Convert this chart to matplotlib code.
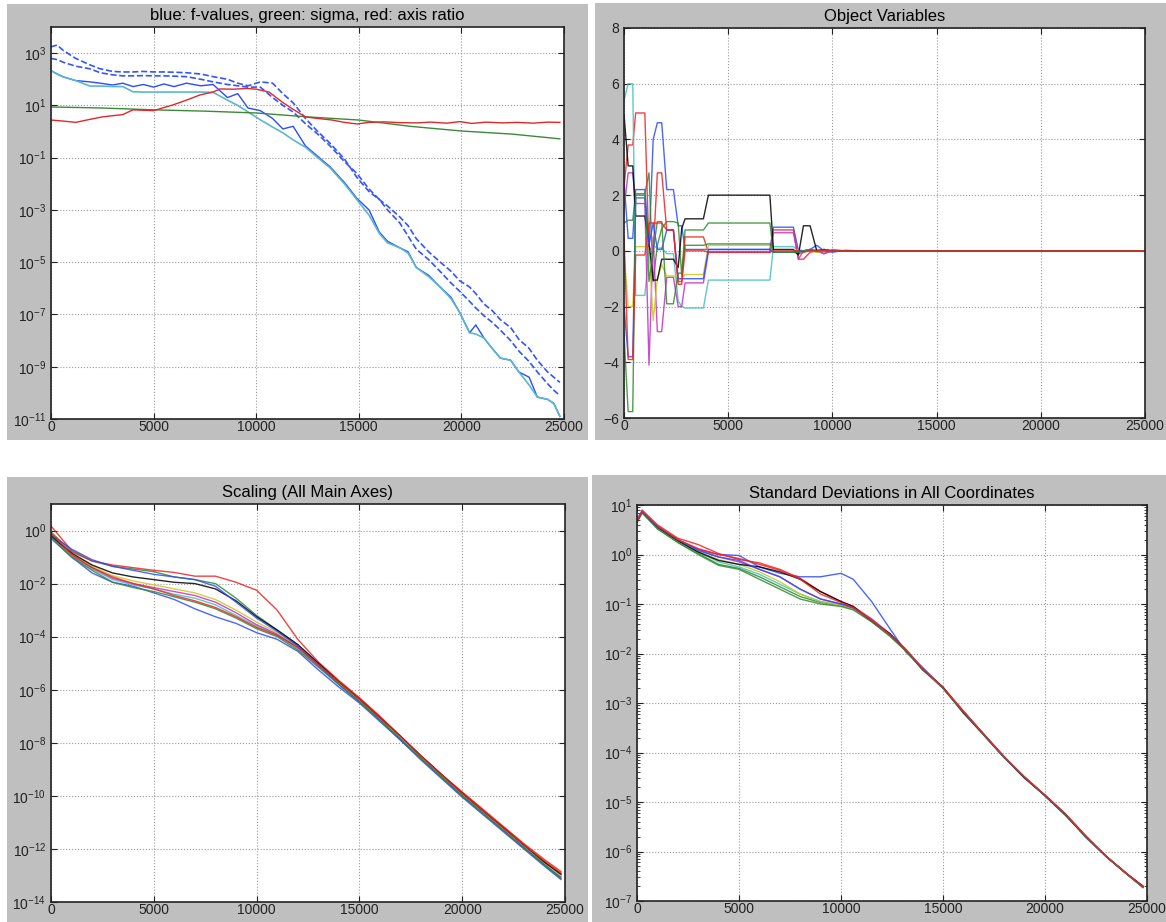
import matplotlib
matplotlib.use('Agg')
import numpy as np
import matplotlib.pyplot as plt
from matplotlib.patches import Rectangle
from matplotlib.ticker import FixedLocator, NullLocator

plt.rcParams['font.family'] = ['Liberation Sans', 'DejaVu Sans']
plt.rcParams['mathtext.default'] = 'regular'

# ---------------- data (log10 values for the log panels) ----------------
# top left: f-values, sigma, axis ratio
f_x = [0, 300, 600, 1200, 1900, 2400, 3000, 3500, 4000, 4500, 5000, 5500, 6000, 6600,
       7300, 7900, 8600, 9100, 9600, 10200, 10800, 11300, 11800, 12400, 13000, 13600,
       14300, 14900, 15500, 16000, 16400, 17000, 17400, 17800, 18400, 18900, 19500,
       19900, 20400, 20700, 21100, 21500, 21900, 22400, 22800, 23300, 23700, 24200,
       24500, 24800]
f_best = [2.33, 2.2, 2.09, 1.95, 1.74, 1.74, 1.72, 1.72, 1.52, 1.51, 1.51, 1.51, 1.51, 1.51,
          1.51, 1.5, 1.2, 1.0, 0.75, 0.45, 0.17, -0.05, -0.32, -0.6, -1.0, -1.39,
          -2.0, -2.6, -3.2, -3.9, -4.26, -4.45, -4.65, -5.2, -5.55, -5.9, -6.4,
          -6.9, -7.7, -7.75, -7.9, -8.3, -8.67, -8.75, -9.2, -9.7, -10.16, -10.25,
          -10.4, -10.9]
f_cur = [2.33, 2.2, 2.09, 1.95, 1.9, 1.85, 1.78, 1.85, 1.72, 1.8, 1.7, 1.82, 1.72, 1.85,
         1.75, 1.8, 1.3, 1.45, 0.9, 0.8, 0.5, 0.1, 0.2, -0.55, -0.95, -1.35,
         -1.95, -2.55, -3.0, -3.85, -4.2, -4.45, -4.6, -5.2, -5.5, -5.9, -6.35,
         -6.9, -7.7, -7.4, -7.9, -8.3, -8.67, -8.75, -9.2, -9.4, -10.16, -10.25,
         -10.4, -10.9]
f_upper = [3.24, 3.31, 3.1, 2.8, 2.55, 2.4, 2.3, 2.28, 2.28, 2.3, 2.28, 2.28, 2.27, 2.25,
           2.2, 2.1, 2.0, 1.85, 1.75, 1.9, 1.85, 1.45, 1.1, 0.5, 0.0, -0.45,
           -1.05, -1.75, -2.3, -2.6, -2.85, -3.27, -3.6, -4.1, -4.6, -4.95, -5.35,
           -5.7, -5.95, -6.2, -6.6, -6.85, -7.2, -7.5, -7.95, -8.3, -8.75, -9.2,
           -9.4, -9.6]
f_lower = [2.8, 2.75, 2.65, 2.5, 2.4, 2.25, 2.17, 2.13, 2.13, 2.14, 2.13, 2.13, 2.12, 2.1,
           2.0, 1.9, 1.8, 1.75, 1.7, 1.7, 1.3, 1.0, 0.75, 0.3, -0.1, -0.55,
           -1.15, -1.6, -2.2, -2.6, -3.0, -3.5, -4.0, -4.5, -4.9, -5.3, -5.8,
           -6.1, -6.5, -6.75, -7.05, -7.3, -7.6, -8.0, -8.4, -8.8, -9.2, -9.65,
           -9.9, -10.1]
sigma_x = [0, 2500, 5000, 7500, 10000, 12500, 15000, 17500, 20000, 22500, 24800]
sigma = [0.94, 0.9, 0.83, 0.78, 0.71, 0.56, 0.44, 0.2, 0.02, -0.1, -0.28]
ratio_x = [0, 600, 1200, 1800, 2500, 3500, 4000, 5000, 5950, 6600, 7260, 7900, 8240, 8900,
           9550, 10000, 10630, 11260, 11800, 12400, 13000, 13700, 14300, 14910, 15500,
           16200, 17000, 17820, 18500, 19300, 19930, 20500, 21200, 22000, 22700, 23500,
           24200, 24800]
ratio = [0.44, 0.4, 0.35, 0.45, 0.56, 0.65, 0.83, 0.8, 1.02, 1.2, 1.4, 1.51, 1.63, 1.62,
         1.65, 1.62, 1.51, 1.13, 0.85, 0.56, 0.5, 0.44, 0.35, 0.29, 0.35,
         0.37, 0.34, 0.33, 0.36, 0.32, 0.38, 0.31, 0.36, 0.33, 0.35, 0.32,
         0.36, 0.35]

# top right: object variables
obj_x = [0, 200, 420, 560, 1000, 1200, 1400, 1600, 1810, 2050, 2370, 2600, 2770, 2930,
         3810, 4050, 7000, 7170, 8130, 8370, 8610, 8930, 9250, 9600, 10000, 10600, 11500, 25000]
obj_vars = [
    [2.5, 0.45, 0.45, 2.2, 2.2, 0.1, 4.0, 4.6, 4.6, 2.2, 2.2, 0.9, 0.9, 0.05, 0.05, 0.05, 0.05, 0.85, 0.85, 0.0, 0.0, 0.05, 0.2, 0.0, -0.05, 0.02, 0.0, 0.0],
    [1.0, 1.1, 1.1, 2.05, 2.05, 2.8, -1.1, 0.2, 0.8, 1.05, 1.05, 1.0, -0.9, 0.75, 0.75, 1.0, 1.0, -0.05, -0.05, -0.1, -0.05, 0.05, -0.05, 0.02, 0.0, 0.0, 0.0, 0.0],
    [2.3, 3.8, 3.8, 4.95, 4.95, -0.1, -0.1, 2.8, 2.8, 0.75, 0.75, -1.1, -1.1, 0.5, 0.5, -0.05, -0.05, 0.75, 0.75, -0.3, -0.3, -0.05, 0.0, -0.1, 0.0, 0.0, 0.0, 0.0],
    [5.4, 6.0, 6.0, -1.6, -1.6, 0.0, 0.2, 0.1, 0.1, -0.1, -0.1, -1.8, -2.0, -2.05, -2.05, -1.05, -1.05, 0.15, 0.15, 0.0, 0.0, 0.0, 0.05, 0.0, 0.0, 0.0, 0.0, 0.0],
    [1.5, 2.8, 2.8, 1.7, 1.7, -4.1, 0.5, -2.9, -2.9, -0.95, -0.95, -2.0, -2.0, -1.15, -1.15, -0.05, -0.05, 0.65, 0.65, -0.3, 0.0, 0.05, 0.0, -0.1, 0.05, 0.0, 0.0, 0.0],
    [0.0, -2.0, -2.0, 0.15, 0.15, 0.1, -2.5, -1.0, -0.5, -0.9, -0.9, -1.0, -1.0, -0.85, -0.85, 0.2, 0.2, -0.05, -0.05, 0.05, 0.0, 0.0, -0.05, 0.0, 0.0, 0.0, 0.0, 0.0],
    [4.9, 3.05, 3.05, 1.25, 1.25, 0.3, -1.05, -1.05, -0.3, -0.3, -0.3, -0.6, 0.8, 1.15, 1.15, 2.0, 2.0, 0.05, 0.05, -0.15, 0.9, 0.9, 0.0, 0.05, 0.0, 0.0, 0.0, 0.0],
    [-2.0, -3.8, -3.8, 1.9, 1.9, 0.2, 1.0, 0.05, 0.05, 0.75, 0.75, -1.0, -1.0, -1.0, -1.0, 0.05, 0.05, -0.05, -0.05, 0.0, 0.0, 0.0, 0.0, 0.05, 0.0, 0.0, 0.0, 0.0],
    [-3.0, -5.77, -5.77, 2.0, 2.0, -1.1, 0.0, 1.05, 1.05, -1.9, -1.9, -0.8, -0.8, 0.2, 0.2, 0.25, 0.25, -0.05, -0.05, -0.05, 0.0, 0.05, 0.0, 0.0, 0.0, 0.0, 0.0, 0.0],
    [0.5, -3.9, -3.9, -0.15, -0.15, 1.0, 1.0, 1.0, 1.0, 0.75, 0.75, -1.2, -1.2, 0.0, 0.0, -0.05, -0.05, 0.0, 0.0, 0.0, -0.05, 0.0, 0.0, 0.0, 0.0, 0.0, 0.0, 0.0],
]

# bottom left: scaling (log10)
scal_x = [0, 1000, 2000, 3000, 4000, 5000, 6000, 7000, 8000, 9000, 10000, 11000, 12000,
          13000, 14000, 15000, 16000, 17000, 18000, 19000, 20000, 21000, 22000, 23000,
          24000, 24800]
scal_exp = [
    [-0.3, -1.0, -1.6, -1.95, -2.1, -2.35, -2.6, -2.95, -3.25, -3.5, -3.85, -4.1, -4.55, -5.25, -5.9, -6.5, -7.2, -7.9, -8.65, -9.35, -10.05, -10.7, -11.35, -12.0, -12.65, -13.15],
    [-0.05, -0.8, -1.15, -1.35, -1.45, -1.55, -1.75, -1.85, -2.0, -2.55, -3.2, -3.75, -4.3, -5.0, -5.7, -6.35, -7.05, -7.8, -8.5, -9.2, -9.9, -10.6, -11.2, -11.9, -12.5, -12.95],
    [0.17, -0.75, -1.15, -1.3, -1.4, -1.5, -1.58, -1.72, -1.72, -1.95, -2.25, -3.0, -4.1, -4.95, -5.65, -6.3, -7.0, -7.75, -8.5, -9.2, -9.85, -10.5, -11.15, -11.8, -12.4, -12.85],
    [-0.2, -1.0, -1.45, -1.85, -2.05, -2.2, -2.4, -2.55, -2.8, -3.2, -3.6, -3.95, -4.45, -5.1, -5.75, -6.4, -7.1, -7.8, -8.55, -9.25, -9.95, -10.6, -11.25, -11.9, -12.55, -13.0],
    [-0.15, -0.95, -1.4, -1.8, -2.0, -2.15, -2.3, -2.45, -2.7, -3.1, -3.55, -3.9, -4.4, -5.1, -5.8, -6.45, -7.1, -7.85, -8.6, -9.3, -10.0, -10.6, -11.3, -11.95, -12.6, -13.05],
    [-0.1, -0.9, -1.35, -1.7, -1.9, -2.05, -2.2, -2.35, -2.6, -3.0, -3.45, -3.85, -4.35, -5.05, -5.75, -6.4, -7.1, -7.8, -8.55, -9.25, -9.95, -10.6, -11.25, -11.9, -12.55, -13.0],
    [-0.2, -0.85, -1.3, -1.6, -1.75, -1.85, -1.95, -2.0, -2.2, -2.65, -3.25, -3.75, -4.3, -5.0, -5.7, -6.35, -7.05, -7.75, -8.5, -9.2, -9.9, -10.55, -11.2, -11.85, -12.5, -12.95],
    [-0.15, -0.7, -1.1, -1.35, -1.5, -1.65, -1.75, -1.85, -2.1, -2.7, -3.3, -3.8, -4.35, -5.05, -5.8, -6.45, -7.15, -7.9, -8.6, -9.3, -10.0, -10.65, -11.3, -11.95, -12.6, -13.1],
    [-0.25, -1.0, -1.5, -1.95, -2.15, -2.3, -2.5, -2.7, -2.95, -3.3, -3.7, -4.0, -4.5, -5.15, -5.8, -6.45, -7.15, -7.85, -8.6, -9.3, -10.0, -10.65, -11.3, -11.95, -12.6, -13.1],
    [-0.1, -0.9, -1.4, -1.75, -2.0, -2.2, -2.45, -2.65, -2.9, -3.25, -3.65, -3.95, -4.4, -5.05, -5.7, -6.35, -7.05, -7.75, -8.5, -9.2, -9.9, -10.55, -11.2, -11.85, -12.45, -12.9],
]

# bottom right: standard deviations (log10)
sd_x = [0, 250, 1000, 2000, 3000, 4000, 5000, 6000, 7000, 8000, 9000, 10000, 10600, 11500,
        12400, 13200, 14000, 15000, 16000, 17000, 18000, 19000, 20000, 21000, 22000, 23000,
        24000, 24800]
sd_exp = [
    [0.7, 0.85, 0.55, 0.3, 0.1, 0.0, -0.02, -0.25, -0.38, -0.45, -0.45, -0.38, -0.5, -0.95, -1.5, -1.98, -2.28, -2.7, -3.17, -3.65, -4.1, -4.5, -4.88, -5.27, -5.7, -6.1, -6.45, -6.72],
    [0.68, 0.85, 0.52, 0.25, 0.02, -0.2, -0.28, -0.45, -0.65, -0.85, -0.97, -1.03, -1.1, -1.35, -1.65, -1.95, -2.32, -2.7, -3.2, -3.65, -4.1, -4.5, -4.87, -5.25, -5.72, -6.1, -6.45, -6.73],
    [0.65, 0.9, 0.6, 0.33, 0.2, 0.02, -0.1, -0.17, -0.3, -0.48, -0.75, -0.95, -1.05, -1.3, -1.6, -1.92, -2.3, -2.68, -3.16, -3.63, -4.08, -4.5, -4.86, -5.24, -5.68, -6.1, -6.44, -6.7],
    [0.7, 0.87, 0.55, 0.27, 0.05, -0.15, -0.25, -0.4, -0.6, -0.8, -0.95, -1.02, -1.1, -1.33, -1.63, -1.95, -2.3, -2.7, -3.18, -3.64, -4.1, -4.5, -4.87, -5.25, -5.7, -6.1, -6.45, -6.72],
    [0.72, 0.88, 0.56, 0.3, 0.1, -0.05, -0.15, -0.3, -0.45, -0.7, -0.9, -1.0, -1.08, -1.32, -1.62, -1.94, -2.3, -2.7, -3.17, -3.63, -4.1, -4.5, -4.87, -5.25, -5.7, -6.1, -6.45, -6.72],
    [0.68, 0.85, 0.54, 0.28, 0.06, -0.1, -0.2, -0.35, -0.55, -0.8, -0.95, -1.03, -1.1, -1.34, -1.63, -1.95, -2.31, -2.7, -3.18, -3.64, -4.1, -4.5, -4.87, -5.25, -5.7, -6.1, -6.45, -6.72],
    [0.65, 0.85, 0.55, 0.28, 0.05, -0.12, -0.2, -0.25, -0.35, -0.5, -0.75, -0.95, -1.05, -1.35, -1.6, -1.95, -2.33, -2.68, -3.2, -3.64, -4.1, -4.52, -4.87, -5.26, -5.7, -6.1, -6.45, -6.7],
    [0.7, 0.86, 0.56, 0.3, 0.08, -0.05, -0.12, -0.3, -0.45, -0.7, -0.9, -1.0, -1.08, -1.32, -1.62, -1.95, -2.3, -2.7, -3.18, -3.64, -4.1, -4.5, -4.87, -5.25, -5.7, -6.1, -6.45, -6.72],
    [0.68, 0.84, 0.52, 0.24, 0.0, -0.22, -0.3, -0.5, -0.7, -0.9, -1.0, -1.05, -1.12, -1.36, -1.65, -1.96, -2.32, -2.7, -3.18, -3.64, -4.1, -4.5, -4.87, -5.25, -5.7, -6.1, -6.45, -6.72],
    [0.66, 0.88, 0.58, 0.3, 0.12, 0.0, -0.08, -0.2, -0.32, -0.5, -0.8, -0.97, -1.07, -1.33, -1.62, -1.94, -2.3, -2.69, -3.17, -3.63, -4.09, -4.5, -4.86, -5.24, -5.69, -6.1, -6.45, -6.71],
]

# classic colour cycle b, g, r, c, m, y, k
line_colors = ['#2b4bff', '#2e8b2e', '#ee2222', '#40c0c0', '#c030c0', '#c8c820', '#000000',
               '#2b4bff', '#2e8b2e', '#ee2222']

# ---------------- figure ----------------
W, H = 1166, 922
fig = plt.figure(figsize=(W / 100, H / 100), dpi=100)
fig.patch.set_facecolor('white')


def px_rect(l, t, r, b):
    return [l / W, 1 - b / H, (r - l) / W, (b - t) / H]


# grey panel backgrounds (four separate plot windows)
for l, t, r, b in [(7, 4, 588, 440), (595, 3, 1166, 440), (7, 477, 588, 922), (592, 475, 1166, 922)]:
    x0, y0, w, h = px_rect(l, t, r, b)
    fig.add_artist(Rectangle((x0, y0), w, h, transform=fig.transFigure,
                             facecolor='#bfbfbf', edgecolor='none', zorder=0))


def style(ax, title):
    ax.set_facecolor('white')
    ax.set_xlim(0, 25000)
    ax.set_xticks([0, 5000, 10000, 15000, 20000, 25000])
    ax.tick_params(which='both', direction='in', top=True, right=True, labelsize=10,
                   colors='#222222')
    ax.tick_params(which='major', length=4)
    ax.tick_params(which='minor', length=2)
    ax.tick_params(axis='x', pad=1)
    ax.grid(True, which='major', ls=':', color='#999999', lw=0.8)
    for s in ax.spines.values():
        s.set_linewidth(1.2)
        s.set_color('#222222')
    ax.set_title(title, fontsize=12, pad=5)


# top left
ax1 = fig.add_axes(px_rect(51, 27, 564, 419))
ax1.semilogy(f_x, 10.0 ** np.array(f_upper), '--', color='#3355ff', lw=1.2)
ax1.semilogy(f_x, 10.0 ** np.array(f_lower), '--', color='#3355ff', lw=1.2)
ax1.semilogy(f_x, 10.0 ** np.array(f_cur), '-', color='#2b4bff', lw=1.0)
ax1.semilogy(f_x, 10.0 ** np.array(f_best), '-', color='#5ab8cc', lw=1.2)
ax1.semilogy(sigma_x, 10.0 ** np.array(sigma), '-', color='#3a8a3a', lw=1.0)
ax1.semilogy(ratio_x, 10.0 ** np.array(ratio), '-', color='#e02828', lw=1.0)
ax1.set_ylim(1e-11, 1e4)
ax1.yaxis.set_major_locator(FixedLocator([10.0 ** k for k in range(-11, 4, 2)]))
ax1.yaxis.set_minor_locator(NullLocator())
style(ax1, 'blue: f-values, green: sigma, red: axis ratio')

# top right
ax2 = fig.add_axes(px_rect(624, 28, 1145, 418))
for vals, col in zip(obj_vars, line_colors):
    ax2.plot(obj_x, vals, color=col, lw=1.0, alpha=0.85)
ax2.set_ylim(-6, 8)
ax2.set_yticks([-6, -4, -2, 0, 2, 4, 6, 8])
style(ax2, 'Object Variables')

# bottom left
ax3 = fig.add_axes(px_rect(51, 504, 565, 902))
for vals, col in zip(scal_exp, line_colors):
    ax3.semilogy(scal_x, 10.0 ** np.array(vals), color=col, lw=1.0, alpha=0.85)
ax3.set_ylim(1e-14, 1e1)
ax3.yaxis.set_major_locator(FixedLocator([10.0 ** k for k in range(-14, 1, 2)]))
ax3.yaxis.set_minor_locator(NullLocator())
style(ax3, 'Scaling (All Main Axes)')

# bottom right (minor ticks only inside the visible decades)
ax4 = fig.add_axes(px_rect(637, 505, 1147, 901))
for vals, col in zip(sd_exp, line_colors):
    ax4.semilogy(sd_x, 10.0 ** np.array(vals), color=col, lw=1.0, alpha=0.85)
ax4.set_ylim(1e-7, 1e1)
ax4.yaxis.set_major_locator(FixedLocator([10.0 ** k for k in range(-7, 2)]))
ax4.yaxis.set_minor_locator(FixedLocator([m * 10.0 ** k for k in range(-7, 1) for m in range(2, 10)]))
ax4.tick_params(axis='y', which='minor', labelleft=False, labelright=False)
style(ax4, 'Standard Deviations in All Coordinates')

fig.savefig('out.png', dpi=100)
